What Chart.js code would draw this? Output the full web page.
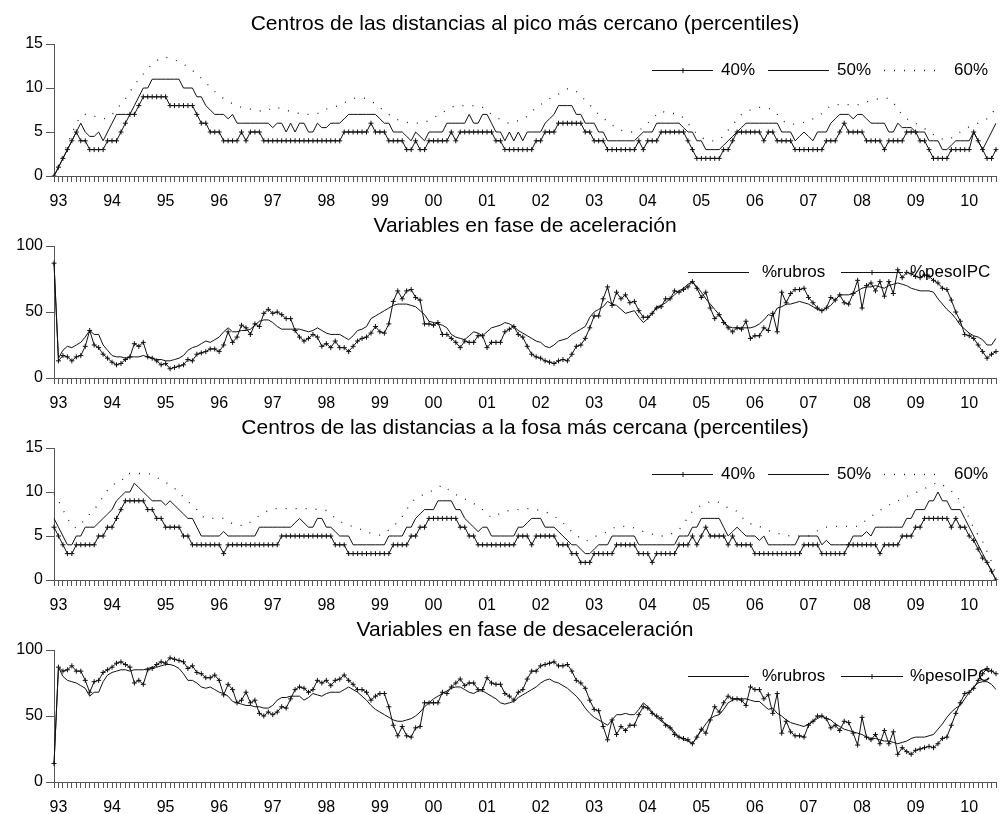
<!DOCTYPE html>
<html>
<head>
<meta charset="utf-8">
<script src="https://cdn.jsdelivr.net/npm/chart.js@4.4.0/dist/chart.umd.min.js"></script>
<style>
  body { margin: 0; background: #fff; }
  #wrap { position: relative; width: 1006px; height: 814px; overflow: hidden; }
  #wrap canvas { position: absolute; left: 0; }
</style>
</head>
<body>
<div id="wrap">
  <canvas id="c1" width="1006" height="214" style="top:0px"></canvas>
  <canvas id="c2" width="1006" height="214" style="top:202px"></canvas>
  <canvas id="c3" width="1006" height="214" style="top:404px"></canvas>
  <canvas id="c4" width="1006" height="208" style="top:606px"></canvas>
</div>
<script>
// etiquetas de años (una cada 12 meses)
const years = ['93','94','95','96','97','98','99','00','01','02','03','04','05','06','07','08','09','10'];

// centros de las distancias al pico más cercano
const pico40 = [
  0,1,2,3,4,5,4,4,3,3, 3,3,4,4,4,5,6,7,7,8, 9,9,9,9,9,9,8,8,8,8, 8,8,7,6,6,5,5,5,4,4,
  4,4,5,4,5,5,5,4,4,4, 4,4,4,4,4,4,4,4,4,4, 4,4,4,4,4,5,5,5,5,5, 5,6,5,5,5,4,4,4,4,3,
  3,4,3,3,4,4,4,4,4,5, 4,5,5,5,5,5,5,5,5,4, 4,3,3,3,3,3,3,3,4,4, 5,5,5,6,6,6,6,6,6,5,
  5,4,4,4,3,3,3,3,3,3, 3,4,3,4,4,4,5,5,5,5, 5,5,4,3,2,2,2,2,2,2, 3,3,4,5,5,5,5,5,5,4,
  5,5,4,4,4,4,3,3,3,3, 3,3,3,4,4,4,5,6,5,5, 5,5,4,4,4,4,3,4,4,4, 4,5,5,5,4,4,3,2,2,2,
  2,3,3,3,3,3,5,4,3,2, 2,3
];
const pico50 = [
  0,1,2,3,4,5,6,5,4.5,4.5, 5,4,5,6,7,7,7,7,8,9, 10,10,11,11,11,11,11,11,11,10, 10,10,9,9,8,7.5,7,7,7,6.5,
  7,6,6,6,6,6,6,6,6,5.5, 6,6,5,6,5,6,6,5,5,6, 5.5,5.5,6,6,6,6.5,7,7,7,7, 7,7,7,6.5,6,6,5,5,5,4.5,
  4,5,4.5,4,5,5,5,5,6,6, 6,6,6,7,6,6,7,7,6,5, 5,4,5,4,5,4,5,5,5,5, 6,6.5,7,8,8,8,8,7,7,6,
  6,6,5,5,4,4,4,4,4,4, 4,4.5,5,5,5,6,6,6,6,6, 6,5.5,5,5,4,4,3,3,3,3, 3.5,4,4.5,5,5.5,6,6,6,6,6,
  6,6,6,5,5,5,4,4.5,5,4.5, 4,5,5,5,6,6.5,7,7,7,6.5, 7,7,6.5,6,6,6,6,5,5,6, 5.5,5.5,5.5,5,5,5,4,4,4,3,
  3,3.5,4,4,4,4,5,4,3,4, 5,6
];
const pico60 = [
  0,1.2,2.4,3.6,4.8,6,6.8,7,7,6.8, 6.6,6.5,6.6,7,7.5,8.2,8.8,9.6,10.3,11, 11.6,12.2,12.7,13.1,13.4,13.5,13.4,13.2,13,12.7,
  12.4,12,11.6,11.1,10.6,10.1,9.6,9.2,8.8,8.5, 8.2,8,7.8,7.7,7.6,7.5,7.4,7.3,7.5,7.8, 7.8,7.6,7.5,7.3,7.2,7.1,7,7,7,7.1,
  7.3,7.6,7.8,7.9,8,8.3,8.6,8.8,8.9,8.9, 8.8,8.5,8.2,7.8,7.3,7,6.7,6.4,6.2,6.1, 6,6,6,6.1,6.3,6.6,6.9,7.2,7.5,7.8,
  8,8,8,8,8,8,7.8,7.4,7,6.7, 6.4,6.1,6,6.1,6.3,6.4,6.8,7.3,7.8,8.1, 8.5,8.8,9,9.3,9.6,9.9,9.9,9.6,9.1,8.6,
  8.1,7.5,7,6.6,6.2,5.8,5.4,5.2,5.1,5, 5,5.2,5.5,6,6.5,7,7.4,7.2,7.1,7.1, 7,6.6,6,5.3,4.8,4.4,4.1,4,4,4.1,
  4.6,5.2,5.8,6.4,7,7.3,7.5,7.7,7.8,7.8, 7.7,7.5,7,6.4,6,5.9,5.9,6,6.1,6.3, 6.5,6.7,7.1,7.6,8,8.1,8.1,8.1,8.1,8.1,
  8.1,8.2,8.4,8.6,8.7,8.8,8.9,8.8,8.3,7.7, 6.9,6.5,6.2,6,5.7,5.4,5,4.7,4.4,4.2, 4.1,4.3,4.7,5,5.3,5.6,5.8,6,6.2,6.5,
  7,7.8
];

// variables en fase de aceleración
const acelRubros = [
  87,15,21,24,23,25,27,31,36,33, 33,25,21,17,16,16,15,16,16,16, 17,16,15,14,14,13,13,14,15,17, 21,23,24,26,28,27,29,31,35,38,
  35,35,36,36,37,40,43,44,44,42, 39,37,37,37,37,37,36,35,36,38, 36,34,33,33,33,31,29,32,36,37, 39,45,47,49,51,53,55,56,56,56,
  55,54,51,48,43,42,41,40,38,33, 31,30,29,32,35,34,32,35,38,39, 40,42,41,39,36,34,32,30,28,27, 24,23,25,28,29,30,33,35,37,39,
  46,50,52,54,58,56,55,52,49,50, 51,46,42,45,49,54,55,57,60,63, 66,68,71,73,69,65,60,56,52,48, 43,39,38,38,38,38,38,39,41,44,
  48,47,53,54,56,56,57,58,57,56, 54,52,51,53,55,59,63,63,63,64, 66,68,69,69,70,69,68,70,71,72, 71,70,68,67,66,66,66,65,60,56,
  52,49,45,40,37,34,32,31,29,25, 25,30
];
const acelPesoIPC = [
  87,13,17,16,13,16,17,24,36,25, 23,18,15,12,10,11,14,16,26,24, 27,16,15,13,10,11,7,8,9,10, 14,13,18,19,20,22,22,20,25,35,
  27,31,40,38,33,41,39,49,52,49, 50,48,45,45,36,31,28,30,33,31, 24,26,23,28,23,23,20,24,28,30, 31,34,39,35,34,41,58,66,60,66,
  67,61,59,41,41,40,42,33,33,30, 27,23,28,27,27,32,32,23,27,27, 27,35,37,39,33,31,24,18,16,15, 13,12,11,13,14,13,18,24,25,30,
  38,47,47,60,69,55,65,60,63,57, 58,51,46,46,49,53,54,60,60,66, 65,67,69,73,68,61,65,53,45,48, 42,38,35,38,37,43,30,32,32,38,
  36,49,35,65,57,64,67,67,68,61, 57,53,51,53,61,59,63,57,56,64, 74,53,70,72,66,73,62,73,64,82, 76,80,79,77,76,78,77,74,72,68,
  67,59,50,43,33,32,30,25,20,15, 18,20
];

// centros de las distancias a la fosa más cercana
const fosa40 = [
  6,5,4,3,3,4,4,4,4,4, 5,5,6,6,7,8,9,9,9,9, 9,8,8,7,7,6,6,6,6,5, 5,4,4,4,4,4,4,4,3,4,
  4,4,4,4,4,4,4,4,4,4, 4,5,5,5,5,5,5,5,5,5, 5,5,5,4,4,4,3,3,3,3, 3,3,3,3,3,3,4,4,4,4,
  5,5,6,6,7,7,7,7,7,7, 7,6,6,5,5,4,4,4,4,4, 4,4,4,4,5,5,5,4,5,5, 5,5,5,4,4,4,3,3,2,2,
  2,3,3,3,3,3,4,4,4,4, 4,3,3,3,2,3,3,3,3,3, 4,4,4,5,4,5,6,5,5,5, 5,4,5,4,4,4,4,3,3,3,
  3,3,3,3,3,3,3,3,4,4, 4,4,3,3,3,3,3,3,4,4, 4,4,4,4,4,3,4,4,4,4, 5,5,5,6,6,7,7,7,7,7,
  7,6,7,6,6,5,4.5,3.5,2.5,2, 1,0
];
const fosa50 = [
  7,6,5,4,4,5,5,6,6,6, 6.5,7,7.5,8,9,9.5,10,10,11,10.5, 10,9.5,9,9,9,8.5,9,8.5,8,7.5, 7,7,6,5,5,5,5,5,5.5,5,
  5,5,5,5,5,5,6,6,6,6, 6,6,6,6,6.5,7,6.5,6,6,7, 7,6,6,5.5,5,5,5,4,4,4, 4,4,4,4,4,5,5,5,5,6,
  6,7,7.5,8,8,8,9,9,9,9, 8,8,7,6.5,6,5.5,6,6,5,5, 5,5,5,5,6,6,6.5,7,7,7, 6,6,6,5.5,5,4.5,4,4,3.5,3,
  3,3.5,4,4,4,5,5,5,5,5, 5,4,4,4,4,4,4,4,4,4, 5,5,5,6,6,7,7,7,7,7, 6,5,5.5,6,5.5,5,5,5,4.5,5,
  4,4,4,4,4,4,4,5,5,5, 5,5,4,4.5,4,4,4,4,4,5, 5,5,5.5,5,6,6,6,6,6,6, 6,7,7,8,8,8,9,9,10,9,
  9,8,8,8,7,6,5,4,3,2, 1,0
];
const fosa60 = [
  9.8,9,8,7,6.2,5.9,6.3,7,7.5,8, 8.7,9.5,10.2,10.8,11,11.1,12,12.1,12.1,12.1, 12.1,12.1,12,11.7,11.3,11.1,10.8,10.4,10,9.4,
  8.9,8.5,8,7.3,7,7,7,7,7,6.7, 6.4,6.2,6.2,6.2,6.6,7,7.3,7.6,7.9,8.1, 8.1,8.1,8.1,8.1,8.1,8.1,8.1,8.1,8.1,8,
  7.9,7.9,7.5,7,6.7,6.4,6.2,6.1,5.9,5.7, 5.5,5.3,5.2,5.1,5.3,5.7,6.1,6.6,7.2,8, 8.9,9.2,9.5,9.8,10,10.2,10.5,10.8,10.4,10,
  9.7,9.5,9.2,9,8.7,8.3,8,7.5,7.1,7.3, 7.6,7.8,7.9,8,8,8.1,8.1,8.1,8,7.9, 7.8,7.5,7.2,7,6.5,6,5.5,5.1,4.7,4.4,
  4.6,4.9,5.1,5.3,5.5,5.8,6.1,6.1,6.1,6.1, 5.9,5.7,5.5,5.3,5.2,5.1,5,5,5.2,5.4, 5.7,6.4,7.1,7.8,8.2,8.5,8.7,8.9,9,8.8,
  8.5,8.2,8,7.8,7.2,6.6,6.4,6.2,6.1,5.8, 5.6,5.5,5.3,5.2,5.1,5,5,5,5,5, 5.3,5.6,5.9,6,6,6.1,6.1,6.1,6.1,6.1,
  6.1,6.5,6.8,7.2,7.6,7.9,8.3,8.5,8.8,9, 9.2,9.5,9.7,9.9,10.2,10.4,10.6,10.9,11.1,10.8, 10.5,10.1,9.7,8.9,8.1,7,5.9,5.1,4.4,3.2,
  2.1,0.6
];

// variables en fase de desaceleración
const desacRubros = [
  14,87,80,77,76,75,73,71,65,68, 68,76,81,83,84,85,85,84,85,85, 85,86,87,87,88,89,89,88,86,82, 77,77,75,72,71,72,70,68,67,65,
  61,60,59,58,58,57,57,56,56,58, 62,64,64,65,65,65,62,64,67,66, 65,67,68,68,68,70,72,70,68,65, 62,58,55,53,51,49,47,46,46,47,
  48,50,53,57,60,63,65,67,69,71, 72,72,70,68,67,69,69,67,65,63, 60,59,60,61,64,66,68,70,72,75, 77,78,76,75,73,71,68,65,61,56,
  52,49,47,45,43,47,51,51,52,51, 51,55,60,57,53,49,46,44,42,38, 34,32,31,29,34,39,44,48,50,51, 55,60,62,63,63,63,62,61,61,58,
  55,56,52,50,47,45,44,43,42,44, 46,48,50,48,47,44,42,40,39,38, 37,36,34,33,33,32,31,31,30,29, 30,31,33,34,34,34,35,36,40,44,
  49,53,56,58,63,68,72,75,76,76, 74,70
];
const desacPesoIPC = [
  14,87,84,85,88,84,84,77,68,76, 77,83,85,87,90,91,89,87,75,77, 74,85,86,89,91,90,94,93,92,91, 86,88,83,82,79,79,81,77,66,74,
  70,60,62,68,60,62,52,50,53,51, 53,57,56,63,70,72,71,68,70,77, 75,77,73,77,78,81,77,74,70,70, 68,62,65,67,67,57,43,35,42,35,
  34,41,42,60,60,60,60,68,67,72, 75,78,73,75,75,70,70,79,75,74, 74,67,65,62,68,70,78,84,84,88, 89,90,91,88,88,89,84,77,75,71,
  62,55,54,42,32,47,36,42,39,43, 43,51,57,56,52,50,48,43,41,36, 34,33,32,29,34,40,37,47,57,53, 60,65,63,63,62,58,72,70,70,63,
  66,52,67,37,46,38,35,35,34,43, 46,50,50,48,41,43,39,46,45,37, 28,49,34,32,36,29,39,29,38,21, 26,23,21,24,25,26,27,26,29,33,
  34,43,52,60,67,68,71,77,82,86, 84,82
];

const FONT = "'Liberation Sans', Arial, sans-serif";
const LINE = '#111';
const AXIS = '#555';

// una etiqueta por mes, el año en el segundo mes de cada bloque de 12
const monthLabels = pico40.map((v, i) => ((i - 1) % 12 === 0 ? years[(i - 1) / 12] : ''));

Chart.defaults.font.family = FONT;
Chart.defaults.color = '#000';

// leyenda dibujada dentro del área del gráfico
const inlineLegend = {
  id: 'inlineLegend',
  afterDatasetsDraw(chart, args, opts) {
    const ctx = chart.ctx;
    const y = opts.y;
    ctx.save();
    opts.items.forEach((it, k) => {
      const ds = chart.data.datasets[k];
      ctx.strokeStyle = ds.borderColor;
      ctx.lineWidth = ds.borderWidth;
      ctx.lineCap = ds.borderCapStyle || 'butt';
      ctx.setLineDash(ds.borderDash || []);
      ctx.beginPath();
      ctx.moveTo(it.x0, y);
      ctx.lineTo(it.x1, y);
      ctx.stroke();
      ctx.setLineDash([]);
      if (ds.pointStyle === 'cross') {
        const mx = it.mx;
        ctx.lineWidth = 1;
        ctx.beginPath();
        ctx.moveTo(mx - 2.5, y); ctx.lineTo(mx + 2.5, y);
        ctx.moveTo(mx, y - 2.5); ctx.lineTo(mx, y + 2.5);
        ctx.stroke();
      }
      ctx.fillStyle = '#000';
      ctx.font = '17px ' + FONT;
      ctx.textBaseline = 'middle';
      ctx.fillText(ds.label, it.tx, y);
    });
    ctx.restore();
  }
};

function lineSet(label, data, extra) {
  return Object.assign({
    label: label,
    data: data,
    borderColor: LINE,
    borderWidth: 1,
    pointRadius: 0,
    tension: 0,
    fill: false
  }, extra || {});
}
const crossMarks = { pointStyle: 'cross', pointRadius: 2.5, pointBorderWidth: 1, pointBorderColor: LINE, pointBackgroundColor: LINE };
const dotted = { borderDash: [1, 9], borderCapStyle: 'butt', borderWidth: 1.3, borderColor: '#222' };

function makeChart(id, title, yMax, yStep, datasets, legendItems, xAxisHeight) {
  return new Chart(document.getElementById(id), {
    type: 'line',
    data: { labels: monthLabels, datasets: datasets },
    options: {
      responsive: false,
      animation: false,
      devicePixelRatio: 1,
      layout: { padding: 0 },
      plugins: {
        legend: { display: false },
        tooltip: { enabled: false },
        title: {
          display: true,
          fullSize: false,
          text: title,
          color: '#000',
          font: { size: 21, weight: 'normal' },
          padding: { top: 11.5, bottom: 7.3 }
        },
        inlineLegend: { y: 70.5, items: legendItems }
      },
      scales: {
        x: {
          type: 'category',
          offset: false,
          grid: { drawOnChartArea: false, drawTicks: true, tickLength: 6, color: AXIS },
          border: { display: true, color: AXIS },
          ticks: { autoSkip: false, maxRotation: 0, minRotation: 0, padding: 10, font: { size: 16 }, color: '#000' },
          afterFit: function (s) { s.height = xAxisHeight; }
        },
        y: {
          min: 0,
          max: yMax,
          grid: { drawOnChartArea: false, tickLength: 8, color: AXIS },
          border: { display: true, color: AXIS },
          ticks: { stepSize: yStep, padding: 3, font: { size: 16 }, color: '#000' },
          afterFit: function (s) { s.width = 54; }
        }
      }
    },
    plugins: [inlineLegend]
  });
}

const pctLegend = [
  { x0: 652, x1: 713, mx: 683, tx: 721 },
  { x0: 768, x1: 829, tx: 837 },
  { x0: 884, x1: 944, tx: 954 }
];
const shareLegend = [
  { x0: 688, x1: 749, tx: 762 },
  { x0: 841, x1: 903, mx: 872, tx: 910 }
];

makeChart('c1', 'Centros de las distancias al pico más cercano (percentiles)', 15, 5, [
  lineSet('40%', pico40, crossMarks),
  lineSet('50%', pico50),
  lineSet('60%', pico60, dotted)
], pctLegend, 38);

makeChart('c2', 'Variables en fase de aceleración', 100, 50, [
  lineSet('%rubros', acelRubros),
  lineSet('%pesoIPC', acelPesoIPC, crossMarks)
], shareLegend, 38);

makeChart('c3', 'Centros de las distancias a la fosa más cercana (percentiles)', 15, 5, [
  lineSet('40%', fosa40, crossMarks),
  lineSet('50%', fosa50),
  lineSet('60%', fosa60, dotted)
], pctLegend, 38);

makeChart('c4', 'Variables en fase de desaceleración', 100, 50, [
  lineSet('%rubros', desacRubros),
  lineSet('%pesoIPC', desacPesoIPC, crossMarks)
], shareLegend, 32);
</script>
</body>
</html>
